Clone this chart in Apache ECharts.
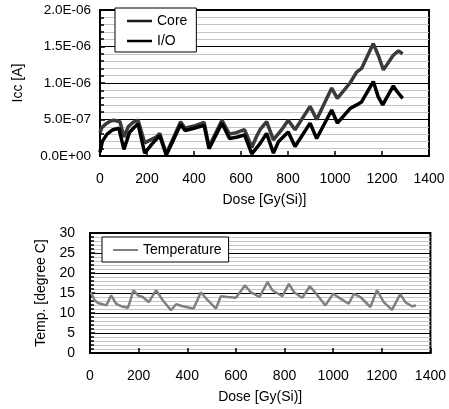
<!DOCTYPE html>
<html>
<head>
<meta charset="utf-8">
<script src="https://cdn.jsdelivr.net/npm/echarts@6/dist/echarts.min.js"></script>
<style>html,body{margin:0;padding:0;background:#fff}#c{width:449px;height:409px}</style>
</head>
<body>
<div id="c"></div>
<script>
// Icc chart data
var coreDose = [0, 8, 25, 45, 60, 85, 102, 120, 140, 162, 190, 215, 240, 254, 282, 343, 362, 400, 443, 464, 519, 551, 580, 615, 646, 668, 681, 709, 738, 773, 801, 830, 894, 922, 986, 1010, 1064, 1092, 1113, 1163, 1184, 1206, 1248, 1270, 1288];
var coreIcc = [3.2e-7, 3.9e-7, 4.4e-7, 4.8e-7, 4.9e-7, 4.7e-7, 2.6e-7, 4.0e-7, 4.6e-7, 4.9e-7, 1.8e-7, 2.2e-7, 2.6e-7, 3.1e-7, 0.3e-7, 4.7e-7, 3.8e-7, 4.1e-7, 4.6e-7, 1.3e-7, 4.9e-7, 3.0e-7, 3.2e-7, 3.6e-7, 1.2e-7, 2.8e-7, 3.6e-7, 4.7e-7, 2.2e-7, 3.6e-7, 4.9e-7, 3.6e-7, 6.8e-7, 5.0e-7, 9.3e-7, 7.9e-7, 1.0e-6, 1.15e-6, 1.2e-6, 1.54e-6, 1.38e-6, 1.18e-6, 1.38e-6, 1.44e-6, 1.40e-6];
var ioDose = [0, 10, 30, 55, 80, 102, 125, 145, 162, 190, 220, 254, 282, 343, 362, 400, 443, 464, 519, 551, 585, 615, 646, 681, 709, 738, 760, 801, 830, 894, 922, 986, 1010, 1064, 1092, 1113, 1163, 1184, 1203, 1248, 1265, 1288];
var ioIcc = [0.5e-7, 2.0e-7, 3.0e-7, 3.6e-7, 3.8e-7, 0.9e-7, 3.2e-7, 3.9e-7, 4.4e-7, 0.4e-7, 1.6e-7, 2.8e-7, 0.1e-7, 4.3e-7, 3.5e-7, 3.8e-7, 4.2e-7, 1.0e-7, 4.5e-7, 2.4e-7, 2.6e-7, 2.9e-7, 0.3e-7, 1.7e-7, 3.1e-7, 0.4e-7, 2.0e-7, 3.3e-7, 1.3e-7, 4.5e-7, 2.4e-7, 6.3e-7, 4.5e-7, 6.5e-7, 7.0e-7, 7.4e-7, 1.02e-6, 8.1e-7, 7.0e-7, 9.6e-7, 8.8e-7, 7.9e-7];
// Temperature chart data
var tempDose = [3, 19, 33, 67, 87, 108, 128, 156, 179, 197, 217, 242, 272, 299, 333, 354, 381, 426, 456, 484, 518, 538, 566, 600, 637, 661, 697, 730, 750, 791, 818, 839, 873, 904, 928, 968, 1000, 1030, 1064, 1085, 1112, 1153, 1180, 1208, 1242, 1276, 1297, 1324, 1341];
var tempC = [15.2, 13.2, 12.5, 11.9, 14.4, 12.3, 11.7, 11.3, 15.7, 14.4, 14.0, 12.7, 15.7, 13.2, 10.7, 12.2, 11.7, 11.1, 15.2, 13.2, 11.1, 14.2, 14.0, 13.8, 16.9, 15.2, 14.0, 17.7, 15.7, 14.2, 17.3, 15.2, 13.8, 16.7, 15.0, 11.9, 14.8, 13.6, 12.3, 14.8, 14.0, 11.5, 15.7, 12.7, 10.8, 14.7, 12.7, 11.7, 11.9];
// Axis ticks
var iccTicks = [0, 5e-7, 1e-6, 1.5e-6, 2e-6];
var tempTicks = [0, 5, 10, 15, 20, 25, 30];
var doseTicks = [0, 200, 400, 600, 800, 1000, 1200, 1400];

function pairs(xs, ys) { return xs.map(function (x, i) { return [x, ys[i]]; }); }
function sci(v) {
  if (v === 0) return '0.0E+00';
  var e = Math.floor(Math.log10(Math.abs(v)) + 1e-9);
  var m = v / Math.pow(10, e);
  var s = e < 0 ? '-' : '+';
  var a = Math.abs(e);
  return m.toFixed(1) + 'E' + s + (a < 10 ? '0' + a : a);
}
function plain(v) { return String(v); }
var FONT = 'Liberation Sans, Arial, sans-serif';
function xAxis(gi) {
  return {
    type: 'value', gridIndex: gi, min: doseTicks[0], max: doseTicks[doseTicks.length - 1], interval: 200,
    name: 'Dose [Gy(Si)]', nameLocation: 'middle', nameGap: 37,
    nameTextStyle: { color: '#000', fontSize: 14, fontFamily: FONT },
    axisLine: { show: true, lineStyle: { color: '#000', width: 2 } },
    axisTick: { show: true, inside: true, length: 5, lineStyle: { color: '#000', width: 1.5 } },
    axisLabel: { color: '#000', fontSize: 14, fontFamily: FONT, margin: 16, showMaxLabel: true, showMinLabel: true, formatter: plain },
    splitLine: { show: false }
  };
}
var chart = echarts.init(document.getElementById('c'), null, { renderer: 'canvas' });
chart.setOption({
  backgroundColor: '#fff',
  animation: false,
  grid: [
    { left: 100, top: 10, width: 329, height: 146, show: true, borderColor: '#000', borderWidth: 2, backgroundColor: 'transparent' },
    { left: 90, top: 233, width: 342, height: 120, show: true, borderColor: '#000', borderWidth: 2, backgroundColor: 'transparent' }
  ],
  legend: [
    {
      data: [
        { name: 'Core', icon: 'rect', itemStyle: { color: '#1a1a1a' } },
        { name: 'I/O', icon: 'rect', itemStyle: { color: '#000' } }
      ],
      orient: 'vertical', left: 115, top: 8,
      padding: [5, 9, 3, 12], itemGap: 4, itemWidth: 25, itemHeight: 2.5,
      backgroundColor: '#fff', borderColor: '#000', borderWidth: 1, borderRadius: 0,
      textStyle: { color: '#000', fontSize: 14, fontFamily: FONT, lineHeight: 16 }
    },
    {
      data: [{ name: 'Temperature', icon: 'rect', itemStyle: { color: '#808080' } }],
      orient: 'vertical', left: 102, top: 237,
      padding: [5, 7, 4, 11], itemWidth: 25, itemHeight: 2,
      backgroundColor: '#fff', borderColor: '#000', borderWidth: 1, borderRadius: 0,
      textStyle: { color: '#000', fontSize: 14, fontFamily: FONT, lineHeight: 16 }
    }
  ],
  xAxis: [xAxis(0), xAxis(1)],
  yAxis: [
    {
      type: 'value', gridIndex: 0, min: iccTicks[0], max: iccTicks[iccTicks.length - 1], interval: 5e-7,
      name: 'Icc [A]', nameLocation: 'middle', nameGap: 75,
      nameTextStyle: { color: '#000', fontSize: 14, fontFamily: FONT },
      axisLine: { show: true, lineStyle: { color: '#000', width: 2 } },
      axisTick: { show: true, inside: true, length: 5, lineStyle: { color: '#000', width: 1.5 } },
      minorTick: { show: true, splitNumber: 5, length: 4, lineStyle: { color: '#000', width: 1.5 } },
      axisLabel: { color: '#000', fontSize: 13.5, fontFamily: FONT, margin: 9, formatter: sci },
      splitLine: { show: true, lineStyle: { color: '#000', width: 1 } },
      minorSplitLine: { show: true, lineStyle: { color: '#c4c4c4', width: 1 } }
    },
    {
      type: 'value', gridIndex: 1, min: tempTicks[0], max: tempTicks[tempTicks.length - 1], interval: 5,
      name: 'Temp. [degree C]', nameLocation: 'middle', nameGap: 40,
      nameTextStyle: { color: '#000', fontSize: 14, fontFamily: FONT },
      axisLine: { show: true, lineStyle: { color: '#000', width: 2 } },
      axisTick: { show: true, inside: true, length: 5, lineStyle: { color: '#000', width: 1.5 } },
      minorTick: { show: true, splitNumber: 5, length: 4, lineStyle: { color: '#000', width: 1.5 } },
      axisLabel: { color: '#000', fontSize: 14, fontFamily: FONT, margin: 15 },
      splitLine: { show: true, lineStyle: { color: '#000', width: 1 } },
      minorSplitLine: { show: true, lineStyle: { color: '#c4c4c4', width: 1 } }
    }
  ],
  series: [
    {
      name: 'Core', type: 'line', xAxisIndex: 0, yAxisIndex: 0, symbol: 'none', z: 3,
      data: pairs(coreDose, coreIcc),
      itemStyle: { color: '#3a3a3a' },
      lineStyle: { color: '#3a3a3a', width: 3.5 }
    },
    {
      name: 'I/O', type: 'line', xAxisIndex: 0, yAxisIndex: 0, symbol: 'none', z: 4,
      data: pairs(ioDose, ioIcc),
      itemStyle: { color: '#000' },
      lineStyle: { color: '#000', width: 3.5 }
    },
    {
      name: 'Temperature', type: 'line', xAxisIndex: 1, yAxisIndex: 1, symbol: 'none',
      data: pairs(tempDose, tempC),
      itemStyle: { color: '#808080' },
      lineStyle: { color: '#808080', width: 2.5 }
    }
  ]
});
</script>
</body>
</html>
